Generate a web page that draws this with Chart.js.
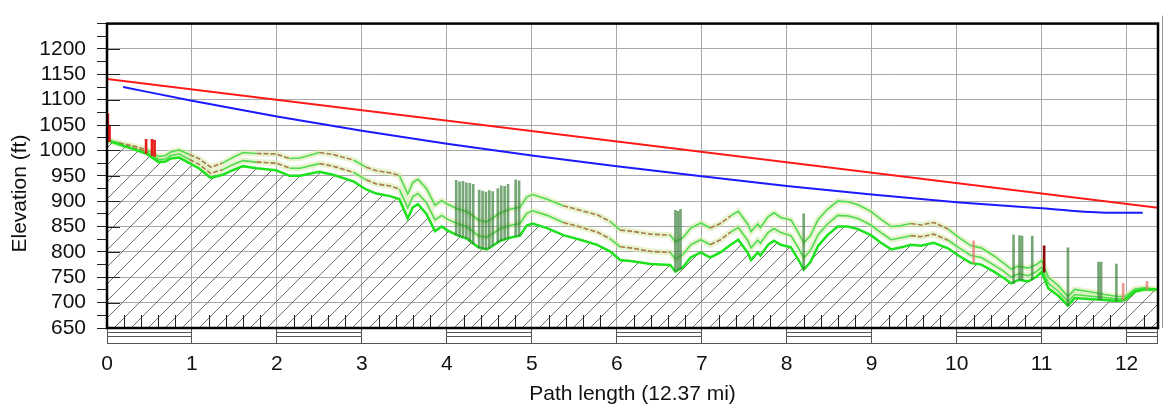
<!DOCTYPE html>
<html>
<head>
<meta charset="utf-8">
<title>Path profile</title>
<script src="https://cdn.jsdelivr.net/npm/chart.js@4.4.1/dist/chart.umd.min.js"></script>
<style>
  html, body { margin: 0; padding: 0; background: #fff; }
</style>
</head>
<body>
<canvas id="profileChart" width="1166" height="411"></canvas>
<script>
const PATH_LENGTH = 12.37;
const Y_TITLE = 'Elevation (ft)';

const xTickLabels = [0, 1, 2, 3, 4, 5, 6, 7, 8, 9, 10, 11, 12];
const yTickLabels = [650, 700, 750, 800, 850, 900, 950, 1000, 1050, 1100, 1150, 1200];

// distance along the path (mi)
const distances = [
  0, 0.14, 0.30, 0.46, 0.61, 0.69, 0.75, 0.85, 0.97, 1.08,
  1.22, 1.36, 1.48, 1.60, 1.76, 1.99, 2.15, 2.27, 2.50, 2.66,
  2.90, 3.05, 3.17, 3.33, 3.44, 3.54, 3.60, 3.66, 3.76, 3.86,
  3.94, 4.00, 4.12, 4.24, 4.37, 4.47, 4.54, 4.63, 4.74, 4.86,
  4.94, 5.01, 5.18, 5.37, 5.57, 5.77, 5.92, 6.04, 6.16, 6.40,
  6.63, 6.69, 6.78, 6.87, 6.99, 7.10, 7.22, 7.34, 7.43, 7.54,
  7.58, 7.66, 7.69, 7.78, 7.85, 7.93, 8.05, 8.14, 8.20, 8.28,
  8.37, 8.48, 8.60, 8.72, 8.84, 8.99, 9.11, 9.23, 9.35, 9.46,
  9.58, 9.73, 9.90, 10.02, 10.17, 10.29, 10.44, 10.56, 10.64, 10.73,
  10.84, 10.94, 11.00, 11.08, 11.20, 11.31, 11.39, 11.55, 11.74, 11.90,
  11.98, 12.10, 12.21, 12.37
];

// ground (ft)
const terrain = [
  1020, 1012, 1003, 994, 977, 978, 984, 986, 975, 965,
  946, 952, 961, 969, 965, 961, 950, 950, 958, 952,
  939, 923, 915, 910, 904, 866, 888, 894, 875, 841,
  850, 843, 833, 826, 809, 805, 812, 822, 828, 832,
  852, 856, 847, 833, 824, 814, 801, 784, 782, 776,
  774, 761, 770, 789, 799, 789, 799, 814, 824, 799,
  784, 799, 793, 814, 822, 814, 809, 784, 765, 780,
  812, 833, 850, 850, 845, 833, 818, 805, 809, 814,
  812, 818, 807, 793, 778, 775, 761, 748, 738, 745,
  742, 751, 760, 728, 713, 694, 709, 707, 705, 703,
  705, 722, 726, 726
];

// ground with earth bulge, first k
const midLine = [
  1020, 1013, 1005, 998, 982, 983, 990, 993, 982, 973,
  955, 962, 972, 980, 977, 975, 965, 965, 974, 969,
  957, 942, 934, 930, 924, 887, 909, 915, 897, 863,
  872, 865, 856, 849, 832, 829, 836, 846, 852, 856,
  876, 881, 872, 858, 849, 839, 826, 810, 808, 801,
  799, 786, 795, 814, 824, 814, 824, 839, 848, 823,
  808, 823, 817, 838, 846, 838, 832, 807, 788, 803,
  834, 855, 872, 871, 866, 853, 838, 824, 828, 832,
  830, 835, 823, 809, 793, 789, 774, 761, 750, 757,
  753, 761, 770, 738, 722, 702, 716, 713, 710, 707,
  708, 724, 727, 726
];

// ground with earth bulge, second k
const upperLine = [
  1020, 1015, 1009, 1002, 988, 990, 997, 1001, 992, 984,
  967, 975, 986, 996, 994, 993, 984, 985, 996, 992,
  981, 967, 960, 956, 951, 914, 937, 943, 925, 892,
  901, 895, 885, 879, 863, 859, 867, 877, 884, 888,
  908, 913, 904, 891, 882, 873, 860, 843, 841, 835,
  833, 820, 828, 847, 857, 847, 856, 871, 880, 855,
  840, 855, 848, 869, 877, 868, 863, 837, 818, 832,
  864, 884, 900, 899, 893, 880, 864, 850, 852, 856,
  853, 858, 845, 829, 812, 808, 792, 777, 766, 772,
  768, 775, 783, 750, 733, 712, 726, 722, 716, 712,
  712, 727, 729, 726
];

const blueDistances = [0.19, 1, 2, 3, 4, 5, 6, 7, 8, 9, 10, 11, 11.8, 12.19];
const blueElevations = [1125, 1098, 1067, 1039, 1013, 990, 969, 949, 930, 913, 898, 886, 877, 877];

const redDistances = [0, 12.37];
const redElevations = [1141, 887];

const clutterDistances = [4.11, 4.15, 4.19, 4.23, 4.27, 4.31, 4.38, 4.42, 4.46, 4.50, 4.54, 4.60, 4.64, 4.68, 4.72, 4.81, 4.85, 6.69, 6.72, 6.75, 8.20, 10.67, 10.74, 10.77, 10.89, 11.31, 11.67, 11.70, 11.88];
const clutterLow = [833, 831, 829, 827, 820, 815, 808, 806, 805, 807, 812, 818, 822, 825, 827, 831, 832, 762, 764, 766, 765, 738, 745, 745, 745, 694, 706, 706, 703];
const clutterHigh = [941, 938, 939, 936, 935, 933, 922, 920, 918, 921, 919, 925, 930, 929, 933, 942, 940, 882, 880, 884, 875, 833, 832, 831, 831, 808, 780, 780, 776];

const spikeDistances = [0.01, 0.03, 0.46, 0.53, 0.56, 10.20, 11.03, 11.96, 12.24];
const spikeLow = [1020, 1018, 994, 990, 988, 778, 760, 705, 726];
const spikeHigh = [1072, 1050, 1022, 1022, 1020, 822, 812, 738, 742];

const brownRanges = [[0.14, 0.34], [1.05, 1.32], [1.8, 2.1], [2.62, 2.77], [3.05, 3.36], [5.37, 5.53], [5.65, 5.89], [6.08, 6.63], [7.19, 7.32], [9.5, 9.78]];

const FONT = { family: '"Liberation Sans", Arial, sans-serif', size: 21 };

const toPoints = (xs, ys) => xs.map((x, i) => ({ x, y: ys[i] }));
const toBars = (xs, lo, hi) => xs.map((x, i) => ({ x, y: [lo[i], hi[i]] }));

function inBrown(a, b) {
  return brownRanges.some(([s, e]) => a < e && b > s);
}

function makeHatch(ctx) {
  const size = 17;
  const c = document.createElement('canvas');
  c.width = size;
  c.height = size;
  const g = c.getContext('2d');
  g.strokeStyle = '#6f6f6f';
  g.lineWidth = 1;
  g.beginPath();
  g.moveTo(0, size);
  g.lineTo(size, 0);
  g.moveTo(-2, 2);
  g.lineTo(2, -2);
  g.moveTo(size - 2, size + 2);
  g.lineTo(size + 2, size - 2);
  g.stroke();
  return ctx.createPattern(c, 'repeat');
}

const brownSegment = {
  borderColor: ctx => inBrown(ctx.p0.parsed.x, ctx.p1.parsed.x) ? '#a97a4a' : undefined,
  borderDash: ctx => inBrown(ctx.p0.parsed.x, ctx.p1.parsed.x) ? [5, 2] : undefined,
};

// frame, inner ticks, the scale strip under the x axis and the y title
const profileDecor = {
  id: 'profileDecor',
  afterDraw(chart) {
    const { ctx, chartArea: a, scales: { x, y } } = chart;
    ctx.save();
    ctx.strokeStyle = '#222';
    ctx.lineWidth = 1;
    ctx.beginPath();
    yTickLabels.forEach(v => {
      const py = Math.round(y.getPixelForValue(v)) + 0.5;
      ctx.moveTo(a.left, py);
      ctx.lineTo(a.left + 13, py);
    });
    for (let i = 1; i * 0.2 < PATH_LENGTH; i++) {
      if (i % 5 === 0) continue;
      const px = Math.round(x.getPixelForValue(i * 0.2)) + 0.5;
      ctx.moveTo(px, a.bottom - 13);
      ctx.lineTo(px, a.bottom);
    }
    ctx.stroke();

    ctx.strokeStyle = '#555';
    ctx.beginPath();
    xTickLabels.forEach(v => {
      const x0 = x.getPixelForValue(v);
      const x1 = x.getPixelForValue(Math.min(v + 1, PATH_LENGTH));
      ctx.moveTo(x0, a.bottom + 15.5);
      ctx.lineTo(x1, a.bottom + 15.5);
      if (v % 2 === 0) {
        ctx.moveTo(x0, a.bottom + 4.5);
        ctx.lineTo(x1, a.bottom + 4.5);
        ctx.moveTo(x0, a.bottom + 8.5);
        ctx.lineTo(x1, a.bottom + 8.5);
      }
    });
    ctx.moveTo(a.right - 0.5, a.bottom);
    ctx.lineTo(a.right - 0.5, a.bottom + 16);
    ctx.stroke();

    ctx.strokeStyle = '#999';
    ctx.beginPath();
    ctx.moveTo(a.right + 4.5, a.top - 8);
    ctx.lineTo(a.right + 4.5, a.bottom);
    ctx.stroke();

    ctx.strokeStyle = '#000';
    ctx.lineWidth = 2.5;
    ctx.strokeRect(a.left, a.top, a.right - a.left, a.bottom - a.top);

    // y title sits a little below the middle of the axis
    ctx.translate(20, y.getPixelForValue(915));
    ctx.rotate(-Math.PI / 2);
    ctx.fillStyle = '#111';
    ctx.font = `${FONT.size}px ${FONT.family}`;
    ctx.textAlign = 'center';
    ctx.textBaseline = 'middle';
    ctx.fillText(Y_TITLE, 0, 0);
    ctx.restore();
  }
};

function main() {
  const canvas = document.getElementById('profileChart');
  const hatch = makeHatch(canvas.getContext('2d'));

  new Chart(canvas, {
    type: 'line',
    data: {
      datasets: [
        {
          label: 'Line of sight',
          data: toPoints(redDistances, redElevations),
          borderColor: '#ff1a1a',
          borderWidth: 2,
          order: 0,
        },
        {
          label: 'Fresnel',
          data: toPoints(blueDistances, blueElevations),
          borderColor: '#1a1aff',
          borderWidth: 2,
          cubicInterpolationMode: 'monotone',
          order: 1,
        },
        {
          type: 'bar',
          label: 'Spikes',
          data: toBars(spikeDistances, spikeLow, spikeHigh),
          backgroundColor: ctx => ctx.dataIndex < 5 ? '#e81c1c' : (ctx.dataIndex === 6 ? '#8a0a0a' : 'rgba(225,120,110,0.75)'),
          barThickness: 2,
          grouped: false,
          order: 2,
        },
        {
          type: 'bar',
          label: 'Clutter',
          data: toBars(clutterDistances, clutterLow, clutterHigh),
          backgroundColor: 'rgba(60,130,60,0.7)',
          barThickness: 2,
          grouped: false,
          order: 3,
        },
        {
          label: 'Terrain',
          data: toPoints(distances, terrain),
          borderColor: '#1ee21e',
          borderWidth: 2.5,
          fill: 'start',
          backgroundColor: hatch,
          order: 4,
        },
        {
          label: 'k1',
          data: toPoints(distances, midLine),
          borderColor: '#4fdc4f',
          borderWidth: 1.6,
          segment: brownSegment,
          order: 5,
        },
        {
          label: 'k2',
          data: toPoints(distances, upperLine),
          borderColor: '#4fdc4f',
          borderWidth: 1.6,
          segment: brownSegment,
          order: 6,
        },
        {
          label: 'k1 halo',
          data: toPoints(distances, midLine),
          borderColor: 'rgba(214,234,170,0.55)',
          borderWidth: 6,
          order: 7,
        },
        {
          label: 'k2 halo',
          data: toPoints(distances, upperLine),
          borderColor: 'rgba(214,234,170,0.55)',
          borderWidth: 6,
          order: 8,
        },
      ],
    },
    options: {
      responsive: false,
      animation: false,
      devicePixelRatio: 1,
      layout: { padding: { top: 13, right: 8, left: 0, bottom: 0 } },
      elements: { point: { radius: 0 } },
      plugins: {
        legend: { display: false },
        tooltip: { enabled: false },
      },
      scales: {
        x: {
          type: 'linear',
          min: 0,
          max: PATH_LENGTH,
          offset: false,
          afterBuildTicks: axis => { axis.ticks = xTickLabels.map(v => ({ value: v })); },
          afterFit: axis => { axis.height = 83; },
          border: { display: false },
          grid: { color: '#a8a8a8', lineWidth: 1, tickLength: 16, tickColor: '#555', offset: false },
          ticks: { color: '#111', font: FONT, padding: 8, maxRotation: 0, autoSkip: false },
          title: { display: true, text: 'Path length (12.37 mi)', color: '#111', font: FONT, padding: { top: 0, bottom: 4 } },
        },
        y: {
          min: 650,
          max: 1250,
          afterBuildTicks: axis => {
            const ticks = [];
            for (let v = 650; v <= 1250; v += 25) ticks.push({ value: v });
            axis.ticks = ticks;
          },
          afterFit: axis => { axis.width = 107; },
          border: { display: false },
          grid: {
            color: ctx => (ctx.tick && ctx.tick.value % 50 === 0) ? '#a8a8a8' : 'rgba(0,0,0,0)',
            tickColor: '#222',
            tickLength: 10,
          },
          ticks: {
            color: '#111',
            font: FONT,
            padding: 11,
            autoSkip: false,
            callback: v => yTickLabels.includes(v) ? String(v) : '',
          },
        },
      },
    },
    plugins: [profileDecor],
  });
}

main();
</script>
</body>
</html>
